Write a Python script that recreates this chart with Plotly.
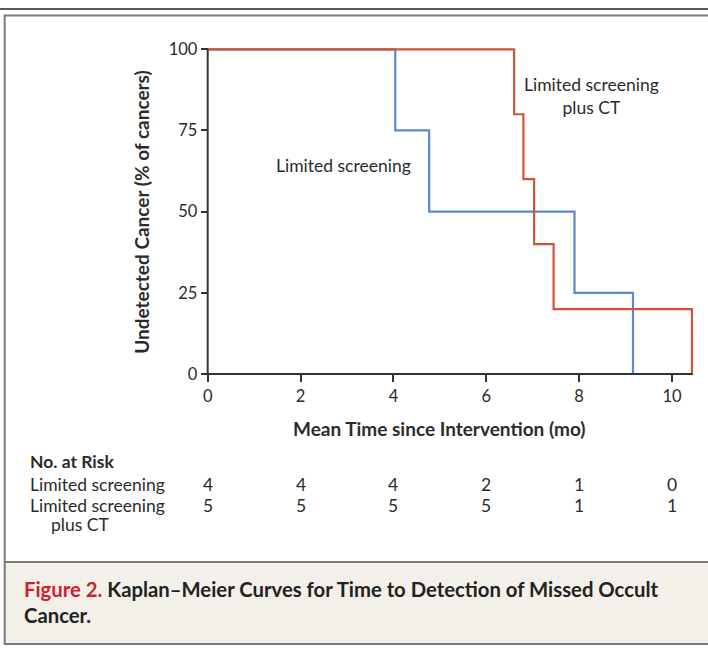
import plotly.graph_objects as go

# ---- data ----
ls_time = [0, 4.04, 4.77, 7.90, 9.16]
ls_surv = [100, 75, 50, 25, 0]
ct_time = [0, 6.60, 6.80, 7.03, 7.45, 10.43]
ct_surv = [100, 80, 60, 40, 20, 0]

x_ticks = [0, 2, 4, 6, 8, 10]
y_ticks = [0, 25, 50, 75, 100]
risk_ls = [4, 4, 4, 2, 1, 0]
risk_ct = [5, 5, 5, 5, 1, 1]

BLUE = "#5b89cd"
RED = "#cf5439"
TXT = "#2b2b2b"
FONT = "Lato"
FS = 17.5     # regular text
FB = 19       # bold titles
FC = 20.3     # caption

W, H = 708, 653

def px(x):
    return x / W

def py(y):
    return (H - y) / H

fig = go.Figure()
fig.add_trace(go.Scatter(x=ls_time, y=ls_surv, mode="lines", line=dict(color=BLUE, width=2.2, shape="hv"),
                         name="Limited screening", showlegend=False, hoverinfo="skip"))
fig.add_trace(go.Scatter(x=ct_time, y=ct_surv, mode="lines", line=dict(color=RED, width=2.2, shape="hv"),
                         name="Limited screening plus CT", showlegend=False, hoverinfo="skip"))

# geometry
x0_px, xu = 207.7, 46.43
y0_px, yu = 374.7, 3.297
xr = [-0.1, 10.5]
yr = [-1.5, 101.5]
xdom = [px(x0_px + xr[0] * xu), px(x0_px + xr[1] * xu)]
ydom = [py(y0_px - yr[0] * yu), py(y0_px - yr[1] * yu)]

fig.update_layout(
    width=W, height=H,
    margin=dict(l=0, r=0, t=0, b=0),
    paper_bgcolor="white", plot_bgcolor="rgba(0,0,0,0)",
    font=dict(family=FONT, color=TXT, size=FS),
    xaxis=dict(domain=xdom, range=xr, anchor="free", position=py(y0_px),
               tickvals=x_ticks, ticks="outside", ticklen=7, tickwidth=1.5, tickcolor="#333",
               showline=False, showgrid=False, zeroline=False, tickfont=dict(size=16.5, color=TXT, family=FONT)),
    yaxis=dict(domain=ydom, range=yr, anchor="free", position=px(x0_px),
               tickvals=y_ticks, ticks="outside", ticklen=7, tickwidth=1.5, tickcolor="#333",
               showline=False, showgrid=False, zeroline=False, tickfont=dict(size=16.5, color=TXT, family=FONT)),
)

shapes = []
# axis lines
shapes.append(dict(type="line", xref="x", yref="y", x0=0, x1=10.45, y0=0, y1=0, line=dict(color="#333", width=2)))
shapes.append(dict(type="line", xref="x", yref="y", x0=0, x1=0, y0=0, y1=100, line=dict(color="#333", width=2)))
# frame
shapes.append(dict(type="line", xref="paper", yref="paper", x0=0, x1=1, y0=py(4), y1=py(4), line=dict(color="#222", width=1.5), layer="below"))
shapes.append(dict(type="rect", xref="paper", yref="paper", x0=px(4.7), x1=px(712), y0=py(565.7), y1=py(649),
                   fillcolor="#f3f0ea", line=dict(width=0), layer="below"))
shapes.append(dict(type="rect", xref="paper", yref="paper", x0=px(4.7), x1=px(712), y0=py(10.7), y1=py(649),
                   fillcolor="rgba(0,0,0,0)", line=dict(color="#7a7a7a", width=2), layer="below"))
shapes.append(dict(type="line", xref="paper", yref="paper", x0=px(4.7), x1=1, y0=py(565.7), y1=py(565.7),
                   line=dict(color="#7a7a7a", width=2), layer="below"))
fig.update_layout(shapes=shapes)

ann = []

def note(x, y, text, size=FS, xref="paper", yref="paper", xanchor="center", color=TXT, angle=0):
    ann.append(dict(x=x, y=y, xref=xref, yref=yref, text=text, showarrow=False,
                    xanchor=xanchor, yanchor="middle", textangle=angle,
                    font=dict(size=size, color=color, family=FONT)))

# curve labels
note(2.93, 64.3, "Limited screening", xref="x", yref="y")
note(8.26, 85.6, "Limited screening<br>plus CT", xref="x", yref="y")
# axis titles
note(px(439), py(430), "<b>Mean Time since Intervention (mo)</b>", size=FB)
note(px(142), py(210), "<b>Undetected Cancer (% of cancers)</b>", size=FB, angle=-90)
# risk table
note(px(28), py(464), "<b>No. at Risk</b>", xanchor="left")
note(px(28), py(487), "Limited screening", xanchor="left")
note(px(28), py(508), "Limited screening", xanchor="left")
note(px(49), py(528), "plus CT", xanchor="left")
for t, a, b in zip(x_ticks, risk_ls, risk_ct):
    note(t, py(487), str(a), xref="x")
    note(t, py(508), str(b), xref="x")
# caption
note(px(22), py(593),
     "<b><span style='color:#cc1f2f'>Figure 2.</span> Kaplan–Meier Curves for Time to Detection of Missed Occult</b>",
     size=FC, xanchor="left", color="#222")
note(px(22), py(619), "<b>Cancer.</b>", size=FC, xanchor="left", color="#222")
fig.update_layout(annotations=ann)

post = ("document.documentElement.style.margin='0';document.documentElement.style.padding='0';"
        "document.documentElement.style.overflow='hidden';"
        "document.body.style.margin='0';document.body.style.padding='0';document.body.style.overflow='hidden';"
        "var gd=document.getElementById('{plot_id}');gd.style.position='fixed';gd.style.top='0px';gd.style.left='0px';")
fig.write_html("out.html", config={"displayModeBar": False}, post_script=post)
